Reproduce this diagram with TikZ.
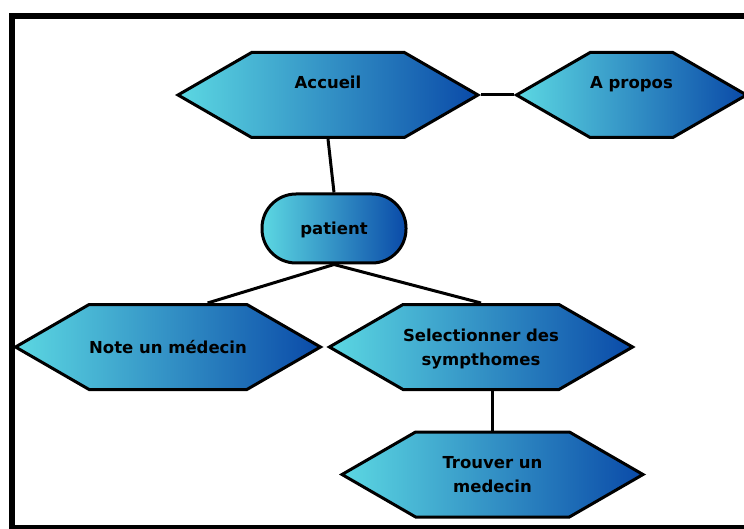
\documentclass[tikz,border=0pt]{standalone}
\usepackage{fontspec}
\setmainfont{DejaVu Sans}
\usepackage{xcolor}
\usetikzlibrary{shapes.symbols}

\definecolor{hexcyan}{RGB}{92,216,226}
\definecolor{hexblue}{RGB}{10,74,168}

\begin{document}
\begin{tikzpicture}[x=1pt, y=-1pt,
	shapebox/.style={draw=black, line width=3pt, left color=hexcyan, right color=hexblue,
		font=\fontsize{16.5}{24}\selectfont\bfseries, align=center, inner sep=0pt,
		text height=12pt, text depth=0pt},
	hexa/.style={shapebox, shape=signal, signal to=west and east, signal pointer angle=60,
		minimum height=85pt},
	pill/.style={shapebox, rectangle, rounded corners=34pt, minimum width=144pt, minimum height=69pt},
	upper/.style={text depth=24pt},
	twoline/.style={text height=36pt},
	link/.style={black, line width=3pt}]
	\useasboundingbox (0,0) rectangle (744,529);
	\draw[black, line width=6pt] (744,16.5) -- (12,16.5) -- (12,528) -- (744,528);

	\node[hexa, upper, minimum width=300pt] (acc) at (328,95) {Accueil};
	\node[hexa, upper, minimum width=223pt] (apr) at (631.5,95) {A propos};
	\node[pill] (pat) at (334,228.5) {patient};
	\node[hexa, minimum width=298pt] (note) at (168,347) {Note un médecin};
	\node[hexa, twoline, minimum width=298pt] (sel) at (481,347) {Selectionner des\\sympthomes};
	\node[hexa, twoline, minimum width=301pt] (trv) at (492.5,474.5) {Trouver un\\medecin};

	\draw[link] (acc.east) -- (apr.west);
	\draw[link] (acc.south) -- (pat.north);
	\draw[link] (pat.south) -- (note.48);
	\draw[link] (pat.south) -- (sel.north);
	\draw[link] (trv.north |- sel.south) -- (trv.north);
\end{tikzpicture}
\end{document}
